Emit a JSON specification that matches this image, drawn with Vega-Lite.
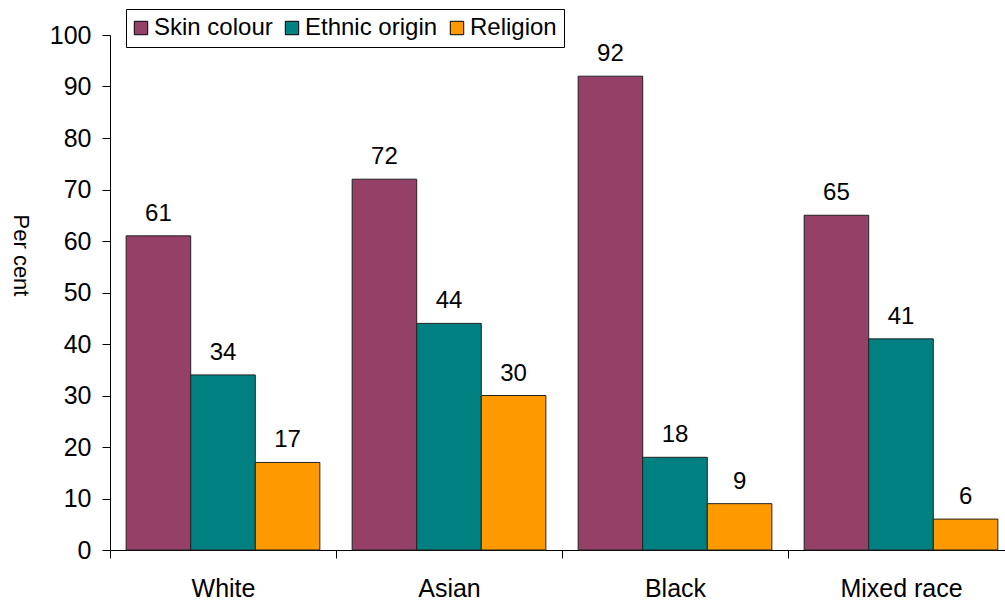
{
  "$schema": "https://vega.github.io/schema/vega-lite/v6.json",
  "width": 895,
  "height": 515,
  "autosize": "none",
  "padding": {"left": 110, "top": 35, "right": 0, "bottom": 56},
  "background": "white",
  "config": {
    "view": {"stroke": null},
    "font": "Liberation Sans",
    "axis": {"labelFont": "Liberation Sans", "titleFont": "Liberation Sans"}
  },
  "data": {
    "values": [
      {"group": "White", "reason": "Skin colour", "pct": 61},
      {"group": "White", "reason": "Ethnic origin", "pct": 34},
      {"group": "White", "reason": "Religion", "pct": 17},
      {"group": "Asian", "reason": "Skin colour", "pct": 72},
      {"group": "Asian", "reason": "Ethnic origin", "pct": 44},
      {"group": "Asian", "reason": "Religion", "pct": 30},
      {"group": "Black", "reason": "Skin colour", "pct": 92},
      {"group": "Black", "reason": "Ethnic origin", "pct": 18},
      {"group": "Black", "reason": "Religion", "pct": 9},
      {"group": "Mixed race", "reason": "Skin colour", "pct": 65},
      {"group": "Mixed race", "reason": "Ethnic origin", "pct": 41},
      {"group": "Mixed race", "reason": "Religion", "pct": 6}
    ]
  },
  "encoding": {
    "x": {
      "field": "group",
      "type": "nominal",
      "sort": ["White", "Asian", "Black", "Mixed race"],
      "scale": {"range": [0, 904], "paddingInner": 0, "paddingOuter": 0},
      "axis": {
        "title": null,
        "tickBand": "extent",
        "tickSize": 8,
        "labelAngle": 0,
        "labelFontSize": 25,
        "labelPadding": 18,
        "labelColor": "black",
        "domainColor": "black",
        "tickColor": "black"
      }
    },
    "xOffset": {
      "field": "reason",
      "type": "nominal",
      "sort": ["Skin colour", "Ethnic origin", "Religion"],
      "scale": {"paddingInner": 0, "paddingOuter": 0.25}
    },
    "y": {
      "field": "pct",
      "type": "quantitative",
      "scale": {"domain": [0, 100], "nice": false},
      "axis": {
        "title": "Per cent",
        "titleAngle": 90,
        "titleFontSize": 22,
        "titleFontWeight": "normal",
        "titleColor": "black",
        "titleX": -90,
        "titleY": 220,
        "titleAlign": "center",
        "titleBaseline": "middle",
        "values": [0, 10, 20, 30, 40, 50, 60, 70, 80, 90, 100],
        "grid": false,
        "tickSize": 8,
        "labelFontSize": 25,
        "labelPadding": 11,
        "labelColor": "black",
        "domainColor": "black",
        "tickColor": "black"
      }
    }
  },
  "layer": [
    {
      "mark": {"type": "bar", "stroke": "#222222", "strokeWidth": 1},
      "encoding": {
        "color": {
          "field": "reason",
          "type": "nominal",
          "sort": ["Skin colour", "Ethnic origin", "Religion"],
          "scale": {
            "domain": ["Skin colour", "Ethnic origin", "Religion"],
            "range": ["#954066", "#008080", "#FF9900"]
          },
          "legend": {
            "orient": "none",
            "legendX": 16,
            "legendY": -26,
            "direction": "horizontal",
            "title": null,
            "strokeColor": "black",
            "fillColor": "white",
            "padding": 7,
            "symbolType": "square",
            "symbolSize": 180,
            "symbolOffset": -4,
            "symbolStrokeColor": "black",
            "symbolStrokeWidth": 1,
            "symbolOpacity": 1,
            "labelFont": "Liberation Sans",
            "labelFontSize": 24,
            "labelColor": "black",
            "labelOffset": 1,
            "columnPadding": 10
          }
        }
      }
    },
    {
      "mark": {"type": "text", "dy": -15, "baseline": "alphabetic", "align": "center", "fontSize": 24, "color": "black"},
      "encoding": {"text": {"field": "pct", "type": "quantitative"}}
    }
  ]
}
